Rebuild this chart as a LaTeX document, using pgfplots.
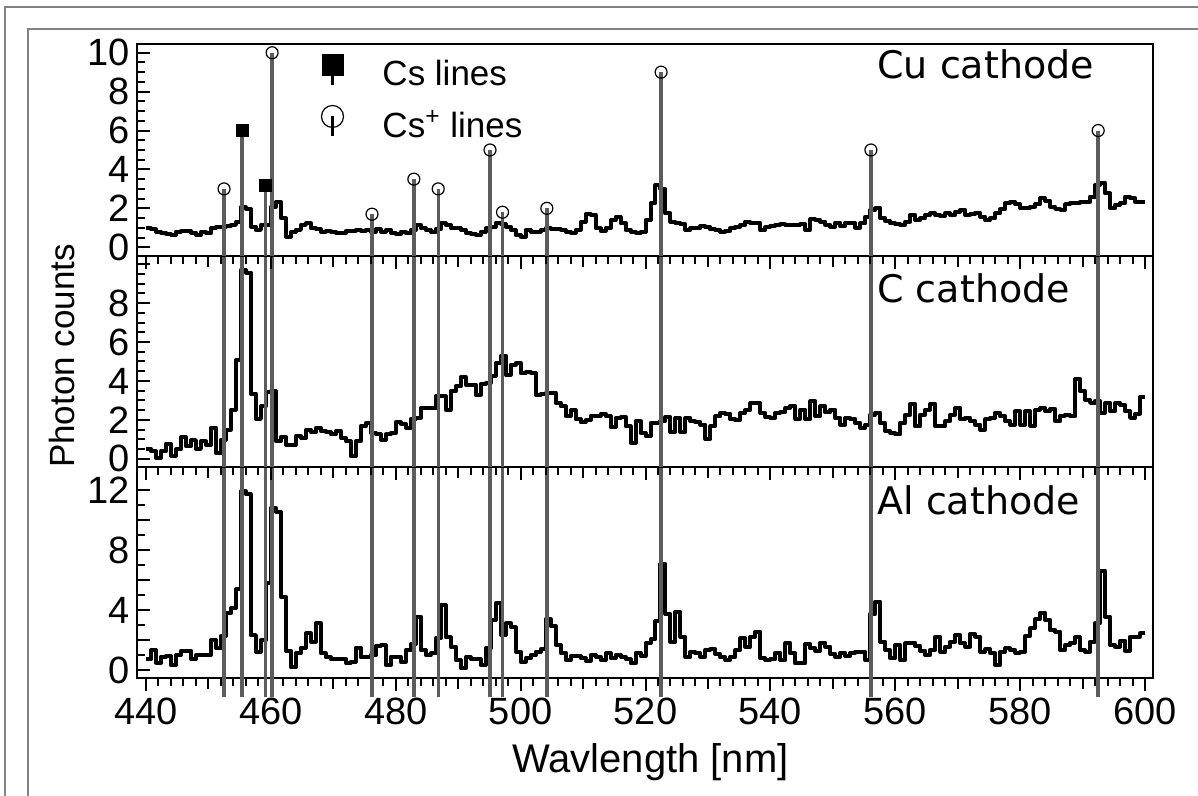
\documentclass[border=0pt]{standalone}
\usepackage{fontspec}
\setmainfont{Liberation Sans}
\newfontfamily\dejavu{DejaVu Sans}
\usepackage{pgfplots}
\usepackage{pgfplotstable}
\pgfplotsset{compat=1.18}

\definecolor{linegray}{RGB}{92,92,92}
\definecolor{framegray}{RGB}{130,130,130}

% 0.8 nm bins, left edges; the last row closes the final bin
\pgfplotstableread{
x cu c al
440.0 0.97 0.51 0.71
440.8 0.92 0.39 1.33
441.6 0.80 0.05 0.49
442.4 0.75 0.39 0.89
443.2 0.68 0.78 0.93
444.0 0.63 0.17 0.33
444.8 0.80 0.48 1.00
445.6 0.84 1.11 1.29
446.4 0.84 0.65 1.29
447.2 0.75 0.96 0.71
448.0 0.63 0.51 1.00
448.8 0.80 0.90 1.00
449.6 0.72 0.71 1.00
450.4 0.97 1.59 2.00
451.2 1.03 0.30 1.44
452.0 1.06 0.99 2.27
452.8 1.09 1.50 3.78
453.6 1.15 2.53 4.11
454.4 1.32 5.06 5.38
455.2 2.05 9.70 11.90
456.0 1.97 9.57 11.70
456.8 1.06 3.35 2.33
457.6 0.89 2.05 1.22
458.4 1.15 2.70 2.00
459.2 1.15 3.42 5.78
460.0 2.09 3.47 10.80
460.8 2.34 0.90 10.56
461.6 1.49 1.13 4.89
462.4 0.55 0.73 1.29
463.2 0.80 0.73 0.18
464.0 0.89 1.16 1.11
464.8 1.15 1.07 1.49
465.6 1.23 1.50 2.44
466.4 0.97 1.37 1.89
467.2 0.92 1.59 3.11
468.0 0.80 1.42 1.11
468.8 0.85 1.37 0.84
469.6 0.80 1.25 0.71
470.4 0.75 1.42 0.73
471.2 0.72 1.07 0.73
472.0 0.84 0.90 0.49
472.8 0.85 0.14 0.56
473.6 0.89 0.90 1.49
474.4 0.85 1.67 0.84
475.2 0.89 1.84 0.89
476.0 0.80 1.33 1.00
476.8 0.92 1.25 1.62
477.6 0.80 0.99 1.64
478.4 0.89 1.25 0.33
479.2 0.72 1.33 0.89
480.0 0.67 1.88 0.89
480.8 0.80 1.81 0.56
481.6 0.72 1.59 1.33
482.4 0.89 2.05 1.73
483.2 1.15 2.10 3.56
484.0 0.97 2.60 1.33
484.8 0.89 2.60 1.00
485.6 0.80 2.60 1.11
486.4 0.92 3.21 2.11
487.2 1.23 3.21 4.33
488.0 1.15 2.53 2.18
488.8 0.97 3.47 1.56
489.6 0.97 3.72 0.67
490.4 0.89 4.20 0.11
491.2 0.75 3.81 0.84
492.0 0.68 3.81 0.71
492.8 0.63 3.30 0.71
493.6 0.80 3.84 0.33
494.4 0.97 3.90 1.44
495.2 1.06 4.27 3.33
496.0 1.23 4.92 4.44
496.8 1.20 5.30 2.33
497.6 1.06 4.32 3.11
498.4 0.89 4.83 2.84
499.2 0.63 4.92 1.22
500.0 0.55 4.41 0.56
500.8 0.89 4.44 0.78
501.6 0.80 4.40 1.00
502.4 0.80 3.30 1.22
503.2 0.89 3.35 1.38
504.0 0.97 3.38 3.38
504.8 0.92 3.38 2.93
505.6 0.92 2.87 1.67
506.4 0.89 2.70 1.16
507.2 0.80 2.19 0.67
508.0 0.75 2.49 0.93
508.8 0.89 2.02 0.93
509.6 1.32 1.88 0.78
510.4 1.69 1.98 0.62
511.2 1.66 2.22 1.00
512.0 0.97 2.19 0.89
512.8 0.84 2.32 0.67
513.6 0.97 2.19 1.11
514.4 1.40 1.64 0.78
515.2 1.57 2.10 1.00
516.0 1.23 2.15 0.89
516.8 0.89 1.67 0.71
517.6 0.80 0.82 0.44
518.4 0.75 1.93 1.16
519.2 0.80 1.33 0.93
520.0 1.40 1.16 1.78
520.8 2.26 1.84 2.04
521.6 3.20 1.84 3.29
522.4 2.98 1.93 7.07
523.2 1.74 2.15 3.73
524.0 1.32 1.37 1.89
524.8 1.27 2.10 3.89
525.6 1.20 1.37 2.22
526.4 0.89 2.10 0.89
527.2 0.97 1.93 1.22
528.0 0.97 1.88 1.11
528.8 1.09 1.76 0.89
529.6 1.03 1.02 1.33
530.4 0.92 1.67 1.38
531.2 0.89 2.19 1.07
532.0 0.80 2.36 0.84
532.8 0.85 2.32 0.67
533.6 0.97 2.02 0.89
534.4 1.06 1.98 1.33
535.2 1.15 2.36 2.11
536.0 1.32 2.53 1.56
536.8 1.27 2.87 2.22
537.6 1.23 2.87 2.56
538.4 0.89 2.36 0.78
539.2 1.03 2.15 0.67
540.0 1.09 2.10 0.71
540.8 1.15 2.36 1.16
541.6 1.18 2.39 0.67
542.4 1.15 2.61 1.78
543.2 1.15 2.73 1.11
544.0 1.15 2.05 0.44
544.8 1.18 2.53 0.44
545.6 0.89 2.02 1.73
546.4 1.44 2.96 1.44
547.2 1.40 2.19 1.29
548.0 1.32 2.70 1.82
548.8 1.15 2.39 1.56
549.6 1.06 2.53 1.07
550.4 1.27 2.10 0.89
551.2 1.09 1.76 1.16
552.0 1.27 2.10 0.93
552.8 1.23 2.05 1.16
553.6 1.01 1.84 1.22
554.4 1.23 1.59 1.22
555.2 1.57 1.76 0.67
556.0 1.92 2.27 3.73
556.8 2.00 2.36 4.56
557.6 1.49 1.84 1.89
558.4 1.37 1.42 1.33
559.2 1.23 1.33 0.78
560.0 1.20 1.25 1.67
560.8 1.15 1.84 0.67
561.6 1.32 2.27 1.78
562.4 1.66 2.82 1.82
563.2 1.40 1.67 1.60
564.0 1.49 2.27 1.29
564.8 1.66 2.53 1.00
565.6 1.74 2.82 1.33
566.4 1.66 1.67 2.22
567.2 1.61 1.67 1.22
568.0 1.74 1.93 1.56
568.8 1.66 2.27 1.89
569.6 1.83 2.61 2.33
570.4 1.92 2.02 1.78
571.2 1.66 2.10 1.56
572.0 1.69 1.93 2.40
572.8 1.78 1.76 2.22
573.6 1.57 1.50 1.22
574.4 1.40 2.02 1.38
575.2 1.49 2.10 1.11
576.0 1.74 2.36 0.33
576.8 1.95 2.19 1.22
577.6 2.26 1.93 1.44
578.4 2.34 1.76 1.33
579.2 2.22 2.44 1.16
580.0 2.00 1.76 1.22
580.8 2.00 2.44 2.27
581.6 2.09 1.71 2.78
582.4 2.21 2.53 3.38
583.2 2.52 2.61 3.82
584.0 2.40 2.44 3.33
584.8 2.09 2.56 2.67
585.6 1.97 1.93 2.56
586.4 1.92 2.22 1.33
587.2 2.22 2.27 1.67
588.0 2.29 2.19 1.82
588.8 2.29 4.10 2.18
589.6 2.34 3.47 1.33
590.4 2.34 3.04 1.22
591.2 2.60 2.87 1.89
592.0 3.20 2.96 3.11
592.8 3.32 2.36 6.62
593.6 2.77 2.87 3.56
594.4 2.00 2.44 1.67
595.2 2.17 2.87 1.56
596.0 2.26 2.78 1.96
596.8 2.60 2.44 1.29
597.6 2.52 2.10 2.22
598.4 2.34 2.32 2.22
599.2 2.34 3.20 2.44
600.0 2.34 3.20 2.44
}\spectra

\pgfplotsset{
  panel/.style={
    scale only axis, width=508pt,
    anchor=south west,
    xmin=438.56, xmax=601.28,
    xtick={440,460,...,600}, minor x tick num=9,
    extra x ticks={450,470,...,590}, extra x tick labels={},
    extra x tick style={major tick length=5.5pt},
    xtick pos=bottom, ytick pos=left,
    xtick align=outside, ytick align=inside,
    major tick length=6.5pt, minor tick length=4pt,
    axis line style={line width=1pt},
    tick style={line width=1pt, black},
    tick label style={font=\fontsize{19}{22}\selectfont},
    yticklabel style={inner ysep=0pt},
    /pgf/number format/assume math mode=true,
  },
  hist/.style={black, line width=2pt, const plot mark left, no marks, line join=round, forget plot},
  csline/.style={linegray, line width=1.7pt, forget plot},
}

\begin{document}
\begin{tikzpicture}
\useasboundingbox (0pt,0pt) rectangle (599pt,398pt);
\draw[framegray, line width=1.3pt] (600pt,394.5pt) -- (2.5pt,394.5pt) -- (2.5pt,-1pt);
\draw[framegray, line width=1.3pt] (600pt,383.5pt) -- (14pt,383.5pt) -- (14pt,-1pt);

% Al cathode
\begin{axis}[panel, at={(68.5pt,59pt)}, height=105.5pt, ymin=-0.53, ymax=13.53,
  ytick={0,2,...,12}, yticklabels={0,{},4,{},8,{},12}, minor y tick num=1, clip=false]
\addplot[hist] table[x=x,y=al]{\spectra};
\pgfplotsinvokeforeach{452.5,455.4,459.1,460.2,476.2,482.9,486.8,495.1,497.1,504.2,522.5,556.1,592.5}{
  \addplot[csline] coordinates {(#1,-1.8) (#1,13.53)};}
\end{axis}

% C cathode
\begin{axis}[panel, at={(68.5pt,164.5pt)}, height=105.5pt, ymin=-0.42, ymax=10.42,
  ytick={0,2,...,10}, yticklabels={0,2,4,6,8,{}}, minor y tick num=3, xticklabels={}]
\addplot[hist] table[x=x,y=c]{\spectra};
\pgfplotsinvokeforeach{452.5,455.4,459.1,460.2,476.2,482.9,486.8,495.1,497.1,504.2,522.5,556.1,592.5}{
  \addplot[csline] coordinates {(#1,-1) (#1,11)};}
\end{axis}

% Cu cathode
\begin{axis}[panel, at={(68.5pt,270pt)}, height=106pt, ymin=-0.45, ymax=10.45,
  ytick={0,2,...,10}, minor y tick num=3, xticklabels={},
  legend cell align=left,
  legend style={draw=none, fill=none, inner sep=0pt, outer sep=0pt,
    at={(0.181,0.9505)}, anchor=north west, row sep=9pt,
    font=\fontsize{17.5}{20}\selectfont,
    nodes={inner sep=0pt, text height=12.8pt, text depth=0pt}}]
\addplot[hist] table[x=x,y=cu]{\spectra};
\foreach \xx/\vv in {452.5/3, 455.4/6, 459.1/3.2, 460.2/10, 476.2/1.7, 482.9/3.5,
    486.8/3, 495.1/5, 497.1/1.8, 504.2/2, 522.5/9, 556.1/5, 592.5/6}{
  \edef\tmp{\noexpand\addplot[csline] coordinates {(\xx,-0.6) (\xx,\vv)};}\tmp
}
\addplot[only marks, mark=square*, mark size=3pt, black, forget plot]
  coordinates {(455.4,6) (459.1,3.2)};
\addplot[only marks, mark=o, mark size=3pt, black, mark options={line width=0.6pt}, forget plot]
  coordinates {(452.5,3) (460.2,10) (476.2,1.7) (482.9,3.5) (486.8,3) (495.1,5)
    (497.1,1.8) (504.2,2) (522.5,9) (556.1,5) (592.5,6)};
\addlegendimage{legend image code/.code={
  \fill[black] (-5.25pt,-1.65pt) rectangle (5.25pt,8.85pt);
  \draw[black, line width=1.5pt] (0pt,3.6pt) -- (0pt,-6.4pt);
  \path[draw=none, fill=none] (-5.5pt,0pt) -- (25pt,0pt);}}
\addlegendentry{Cs lines}
\addlegendimage{legend image code/.code={
  \draw[black, line width=0.6pt] (0pt,4.1pt) circle[radius=5.5pt];
  \draw[black, line width=1.5pt] (0pt,4.1pt) -- (0pt,-5.9pt);
  \path[draw=none, fill=none] (-5.5pt,0pt) -- (25pt,0pt);}}
\addlegendentry{Cs\textsuperscript{+} lines}
\end{axis}

\node[anchor=base west, inner sep=0pt, font=\dejavu\fontsize{19}{22}\selectfont] at (438.5pt,358.5pt) {Cu cathode};
\node[anchor=base west, inner sep=0pt, font=\dejavu\fontsize{19}{22}\selectfont] at (438.5pt,246.5pt) {C cathode};
\node[anchor=base west, inner sep=0pt, font=\dejavu\fontsize{19}{22}\selectfont] at (438.5pt,140.5pt) {Al cathode};
\node[rotate=90, inner sep=0pt, font=\fontsize{17.5}{20}\selectfont] at (31pt,220pt) {Photon counts};
\node[anchor=base, inner sep=0pt, font=\fontsize{20}{24}\selectfont] at (325.25pt,11.5pt) {Wavlength [nm]};
\end{tikzpicture}
\end{document}
